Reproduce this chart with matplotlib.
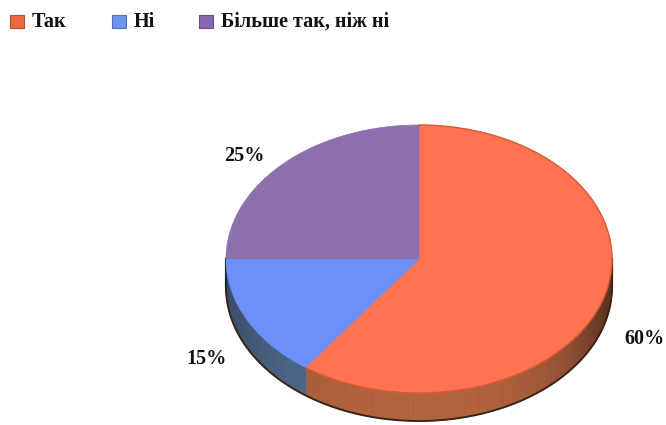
import numpy as np
import matplotlib.pyplot as plt
from matplotlib.patches import Polygon, Rectangle
import matplotlib.colors as mcolors

categories = ['Так', 'Ні', 'Більше так, ніж ні']
values = [60, 15, 25]
pct_labels = ['60%', '15%', '25%']
top_colors = ['#FF7350', '#6C8FF9', '#8C70AE']
side_colors = ['#B0603C', '#4F6A8E', '#5E4A7A']
legend_colors = ['#EE6840', '#6E94F2', '#8868AC']

# layout
W, H = 666, 425
cx, cy, rx, ry, depth = 419, 259, 193, 134, 28
label_pos = [(644, 339), (207, 359), (244, 156)]
legend_x = [10, 112, 199]
legend_y = 21.5
FONT = ['Liberation Serif', 'DejaVu Serif']

fig = plt.figure(figsize=(6.66, 4.25), dpi=100)
ax = fig.add_axes([0, 0, 1, 1])
ax.set_xlim(0, W)
ax.set_ylim(H, 0)
ax.axis('off')


def pt(theta_deg, dy=0.0):
    t = np.deg2rad(theta_deg)
    return cx + rx * np.cos(t), cy - ry * np.sin(t) + dy


# angles: start at 90 deg, clockwise
total = float(sum(values))
starts, ends = [], []
a = 90.0
for v in values:
    span = 360.0 * v / total
    starts.append(a)
    ends.append(a - span)
    a -= span

# side walls (visible front half: theta in [-180, 0])
for i in range(len(values)):
    hi, lo = starts[i], ends[i]
    seg_lo = max(lo, -180.0)
    seg_hi = min(hi, 0.0)
    if seg_hi <= seg_lo:
        continue
    base = np.array(mcolors.to_rgb(side_colors[i]))
    thetas = np.linspace(seg_hi, seg_lo, int((seg_hi - seg_lo) * 2) + 2)
    for ta, tb in zip(thetas[:-1], thetas[1:]):
        tm = 0.5 * (ta + tb)
        u = np.cos(np.deg2rad(tm))
        f = 0.88 + 0.14 * (1 - u * u) - 0.38 * max(u, 0) ** 4 - 0.15 * max(-u, 0) ** 4
        col = np.clip(base * f, 0, 1)
        p1 = pt(ta); p2 = pt(tb)
        p3 = pt(tb, depth); p4 = pt(ta, depth)
        ax.add_patch(Polygon([p1, p2, p3, p4], closed=True, facecolor=col,
                             edgecolor=col, linewidth=0.6, zorder=2))

# dark bottom rim
tt = np.linspace(-180, 0, 300)
bx = cx + rx * np.cos(np.deg2rad(tt))
by = cy - ry * np.sin(np.deg2rad(tt)) + depth
ax.plot(bx, by, color='#3a2418', lw=1.4, zorder=3, solid_capstyle='round')
ax.plot([cx - rx, cx - rx], [cy, cy + depth], color='#1c2a3c', lw=1.6, zorder=3)
ax.plot([cx + rx, cx + rx], [cy, cy + depth], color='#4a2410', lw=1.6, zorder=3)

# top surface
for i in range(len(values)):
    th = np.linspace(starts[i], ends[i], 200)
    xs = cx + rx * np.cos(np.deg2rad(th))
    ys = cy - ry * np.sin(np.deg2rad(th))
    verts = [(cx, cy)] + list(zip(xs, ys))
    ax.add_patch(Polygon(verts, closed=True, facecolor=top_colors[i],
                         edgecolor=top_colors[i], linewidth=0.5, zorder=4))

# subtle darker rim on the top edge of the large slice
th = np.linspace(starts[0], ends[0], 300)
ax.plot(cx + rx * np.cos(np.deg2rad(th)), cy - ry * np.sin(np.deg2rad(th)),
        color='#D85A36', lw=1.0, zorder=5)

# percentage labels
for (x, y), lab in zip(label_pos, pct_labels):
    ax.text(x, y, lab, ha='center', va='center', fontsize=14.5,
            fontweight='bold', family=FONT, color='#111111', zorder=6)

# legend
for x, cat, col in zip(legend_x, categories, legend_colors):
    edge = tuple(np.array(mcolors.to_rgb(col)) * 0.75)
    ax.add_patch(Rectangle((x, legend_y - 6.5), 14, 13, facecolor=col,
                           edgecolor=edge, linewidth=0.8, zorder=6))
    ax.text(x + 22, legend_y, cat, ha='left', va='center', fontsize=14.5,
            fontweight='bold', family=FONT, color='#111111', zorder=6)

fig.savefig('out.png', dpi=100, facecolor='white')
